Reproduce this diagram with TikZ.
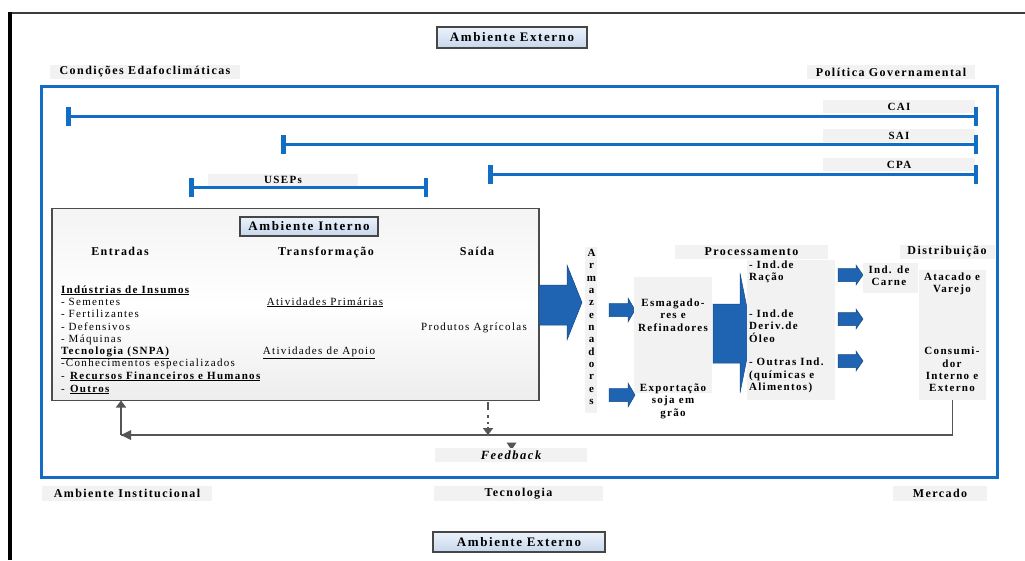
\documentclass[tikz,border=0pt]{standalone}
\usepackage{fontspec}
\setmainfont{Liberation Serif}[LetterSpace=12]
\usetikzlibrary{arrows.meta}
\definecolor{blueline}{RGB}{18,110,196}
\definecolor{arrowblue}{RGB}{30,100,178}
\definecolor{boxblueA}{RGB}{236,242,250}
\definecolor{boxblueB}{RGB}{198,215,236}
\definecolor{lbg}{RGB}{242,242,242}
\definecolor{fbline}{RGB}{85,85,85}
\definecolor{framegray}{RGB}{60,60,60}
\begin{document}
\begin{tikzpicture}[x=1pt,y=-1pt,
  every node/.style={inner sep=0pt, outer sep=0pt},
  hdr/.style={font=\fontsize{12}{14}\selectfont\bfseries},
  bld/.style={font=\fontsize{11}{12.4}\selectfont\bfseries, align=center},
  reg/.style={font=\fontsize{11}{12.3}\selectfont},
  lblbg/.style={fill=lbg},
  envbox/.style={draw=gray!55!black, line width=1.1pt, top color=boxblueA, bottom color=boxblueB, font=\fontsize{13}{15}\selectfont\bfseries},
  spanline/.style={blueline, line width=3pt, {Bar[width=19pt,line width=4.5pt]}-{Bar[width=19pt,line width=4.5pt]}},
  blk/.style={fill=arrowblue, draw=arrowblue!75!black, line width=0.5pt},
  fb/.style={fbline, line width=1.8pt},
  fbtip/.style={-{Triangle[width=10pt,length=7pt]}},
]
\useasboundingbox (0,0) rectangle (1025,560);
\fill[white] (0,0) rectangle (1025,560);

% outer frame (only left and top edges are visible)
\draw[framegray, line width=2.5pt] (10,13) -- (1025,13);
\draw[black, line width=4.5pt] (10,560) -- (10,11.75);

% external environment
\node[envbox, minimum width=150pt, minimum height=21pt] (extTop) at (512,37.5) {Ambiente Externo};
\node[envbox, minimum width=172pt, minimum height=20pt] (extBot) at (519,542) {Ambiente Externo};
\node[hdr, lblbg, minimum width=190pt, minimum height=14pt] (edafo) at (145,72) {Condições Edafoclimáticas};
\node[hdr, lblbg, minimum width=168pt, minimum height=14pt] (polit) at (891,72) {Política Governamental};
\node[hdr, lblbg, minimum width=170pt, minimum height=15pt] (instit) at (127,493.5) {Ambiente Institucional};
\node[hdr, lblbg, minimum width=169pt, minimum height=15pt] (tecno) at (518.5,493.5) {Tecnologia};
\node[hdr, lblbg, minimum width=94pt, minimum height=15pt] (merc) at (940,493.5) {Mercado};

% system boundary
\draw[blueline, line width=3pt] (41,86) rectangle (997,477);

% spans
\node[lblbg, minimum width=152pt, minimum height=13pt, font=\fontsize{11}{12}\selectfont\bfseries] (cai) at (899,106.5) {CAI};
\node[lblbg, minimum width=152pt, minimum height=13pt, font=\fontsize{11}{12}\selectfont\bfseries] (sai) at (899,135.5) {SAI};
\node[lblbg, minimum width=152pt, minimum height=13pt, font=\fontsize{11}{12}\selectfont\bfseries] (cpa) at (899,164.5) {CPA};
\node[lblbg, minimum width=150pt, minimum height=12pt, font=\fontsize{11}{12}\selectfont\bfseries] (useps) at (283,180) {USEPs};
\coordinate (cai1) at (66,116);  \coordinate (cai2) at (978,116);
\coordinate (sai1) at (281,144); \coordinate (sai2) at (978,144);
\coordinate (cpa1) at (488,174); \coordinate (cpa2) at (978,174);
\coordinate (use1) at (189,187); \coordinate (use2) at (428,187);
\draw[spanline] (cai1) -- (cai2);
\draw[spanline] (sai1) -- (sai2);
\draw[spanline] (cpa1) -- (cpa2);
\draw[spanline] (use1) -- (use2);

% internal environment
\node[draw=gray!60!black, line width=1.2pt, top color=gray!9, bottom color=gray!14, middle color=white, minimum width=487pt, minimum height=192pt] (inbox) at (295.5,304.5) {};
\node[envbox, minimum width=138pt, minimum height=19pt] (inttitle) at (309,226.5) {Ambiente Interno};
\node[hdr, anchor=base] (entr) at (120,255) {Entradas};
\node[hdr, anchor=base] (transf) at (326,255) {Transformação};
\node[hdr, anchor=base] (saida) at (477,255) {Saída};

\node[reg, anchor=base west] (e1) at (61,293) {\textbf{\underline{Indústrias de Insumos}}};
\node[reg, anchor=base west] (e2) at (61,305) {- Sementes};
\node[reg, anchor=base west] (e3) at (61,317) {- Fertilizantes};
\node[reg, anchor=base west] (e4) at (61,330) {- Defensivos};
\node[reg, anchor=base west] (e5) at (61,342) {- Máquinas};
\node[reg, anchor=base west] (e6) at (61,354) {\textbf{\underline{Tecnologia (SNPA)}}};
\node[reg, anchor=base west] (e7) at (61,366) {-Conhecimentos especializados};
\node[reg, anchor=base west] (e8) at (61,379) {- \textbf{\underline{Recursos Financeiros e Humanos}}};
\node[reg, anchor=base west] (e9) at (61,392) {- \textbf{\underline{Outros}}};
\node[reg, anchor=base] (t1) at (325,305) {\underline{Atividades Primárias}};
\node[reg, anchor=base] (t2) at (319,354) {\underline{Atividades de Apoio}};
\node[reg, anchor=base] (s1) at (474,330) {Produtos Agrícolas};

% big arrow out of the internal environment
\path[blk] (539,285) -- (567,285) -- (567,265) -- (582,302.5) -- (567,340) -- (567,325) -- (539,325) -- cycle;

% armazenadores
\node[lblbg, minimum width=12pt, minimum height=166pt] (armbg) at (591,330) {};
\node[bld, font=\fontsize{11}{12.33}\selectfont\bfseries] (arm) at (591.5,327) {A\\r\\m\\a\\z\\e\\n\\a\\d\\o\\r\\e\\s};

% small arrows to crushers / export
\path[blk] (609,303.5) -- (628,303.5) -- (628,298) -- (635,310) -- (628,322) -- (628,316.5) -- (609,316.5) -- cycle;
\path[blk] (609,388.5) -- (628,388.5) -- (628,383) -- (635,395) -- (628,407) -- (628,401.5) -- (609,401.5) -- cycle;

\node[lblbg, minimum width=78pt, minimum height=116pt] (esmbg) at (673,335) {};
\node[bld] (esm) at (673,315) {Esmagado-\\res e\\Refinadores};
\node[bld] (expo) at (673,401) {Exportação\\soja em\\grão};

% big arrow to processing
\path[blk] (713,304) -- (740,304) -- (740,273) -- (752,333) -- (740,393) -- (740,363) -- (713,363) -- cycle;

% processing
\node[hdr, lblbg, minimum width=153pt, minimum height=14pt] (proc) at (751.5,252) {Processamento};
\node[lblbg, minimum width=88pt, minimum height=140pt] (procbg) at (791,330) {};
\node[bld, align=left, anchor=west] (p1) at (749,272) {- Ind.de\\Ração};
\node[bld, align=left, anchor=west] (p2) at (749,326) {- Ind.de\\Deriv.de\\Óleo};
\node[bld, align=left, anchor=west] (p3) at (749,375.5) {- Outras Ind.\\(químicas e\\Alimentos)};

% small arrows right
\path[blk] (838,268.5) -- (856,268.5) -- (856,265) -- (863,275) -- (856,285) -- (856,281.5) -- (838,281.5) -- cycle;
\path[blk] (838,312.5) -- (856,312.5) -- (856,309) -- (863,319) -- (856,329) -- (856,325.5) -- (838,325.5) -- cycle;
\path[blk] (838,354.5) -- (856,354.5) -- (856,351) -- (863,361) -- (856,371) -- (856,367.5) -- (838,367.5) -- cycle;

\node[lblbg, minimum width=55pt, minimum height=30pt] (carnebg) at (890.5,278) {};
\node[bld] (carne) at (889,276) {Ind. de\\Carne};

% distribution
\node[hdr, lblbg, minimum width=95pt, minimum height=14pt] (distr) at (947,252) {Distribuição};
\node[lblbg, minimum width=67pt, minimum height=130pt] (distbox) at (952.5,335) {};
\node[bld] (atac) at (952,284) {Atacado e\\Varejo};
\node[bld] (cons) at (952,369.5) {Consumi-\\dor\\Interno e\\Externo};

% feedback
\coordinate (fbc) at (121,435);
\coordinate (dtop) at (488,402);
\coordinate (dbot) at (488,435);
\draw[fb] (distbox.south) |- (fbc);
\fill[fbline] (121,435) -- (131,430) -- (131,440) -- cycle;
\draw[fb, fbtip] (fbc) -- (fbc |- inbox.south);
\draw[fbline, line width=2.5pt, dash pattern=on 8pt off 5pt on 2.5pt off 4pt on 2.5pt off 3pt, fbtip] (dtop) -- (dbot);
\fill[fbline] (506.5,442.5) -- (516.5,442.5) -- (511.5,450) -- cycle;
\node[lblbg, minimum width=152pt, minimum height=14pt, font=\fontsize{12.5}{14}\selectfont\bfseries\itshape] (fbk) at (511,455) {Feedback};
\end{tikzpicture}
\end{document}
